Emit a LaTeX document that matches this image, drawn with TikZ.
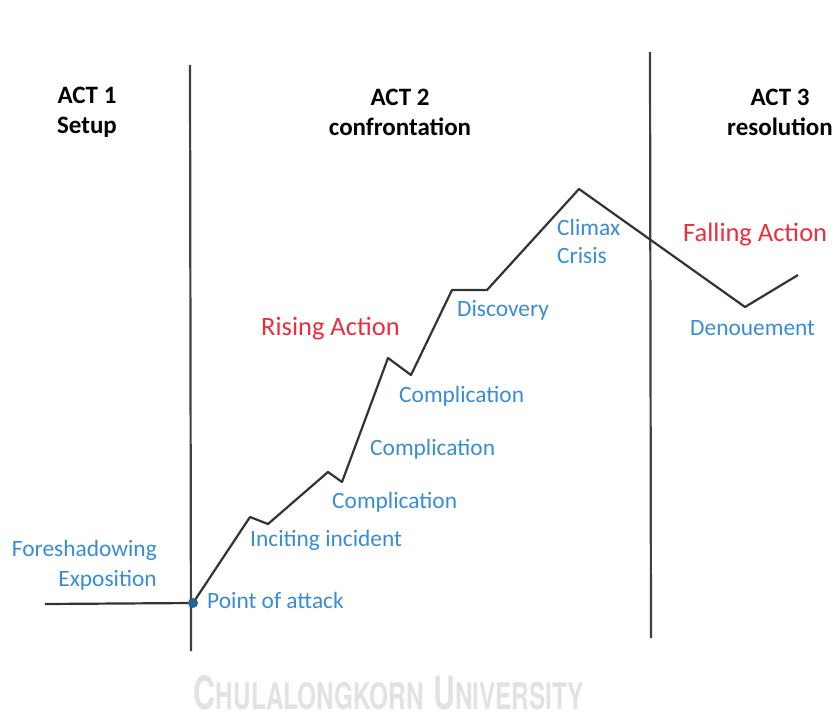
\documentclass[tikz,border=0pt]{standalone}
\usepackage{fontspec}
\setmainfont{Carlito}
\setsansfont{TeX Gyre Heros}
\usetikzlibrary{positioning}

\definecolor{stageblue}{HTML}{3A8CD2}
\definecolor{actionred}{HTML}{E8303C}
\definecolor{markgray}{HTML}{E2E2E2}

\begin{document}
\begin{tikzpicture}[x=1pt,y=-1pt,
  acttitle/.style={font=\fontsize{25}{30}\selectfont\bfseries, align=center, inner sep=0pt},
  stagelbl/.style={font=\fontsize{23.4}{28}\selectfont, text=stageblue, inner sep=0pt, anchor=west},
  actionlbl/.style={font=\fontsize{26.5}{28}\selectfont, text=actionred, inner sep=0pt, anchor=west},
  divider/.style={draw=black!75, line width=2.2pt},
  plotline/.style={draw=black!80, line width=2.2pt, line join=round}]

  \useasboundingbox (0,0) rectangle (837,720);

  % Act headings
  \node[acttitle] (act1) at (87,112) {ACT 1\\Setup};
  \node[acttitle] (act2) at (400,112) {ACT 2\\confrontation};
  \node[acttitle] (act3) at (780,112) {ACT 3\\resolution};

  % Act dividers
  \coordinate (div1top) at (190,65);
  \coordinate (div1bot) at (191,651);
  \coordinate (div2top) at (650,52);
  \coordinate (div2bot) at (651,638);
  \draw[divider] (div1top) -- (div1bot);
  \draw[divider] (div2top) -- (div2bot);

  % Plot line
  \coordinate (start) at (45,604);
  \coordinate (attack) at (193,603);
  \coordinate (incite) at (250,517);
  \coordinate (c1) at (268,524);
  \coordinate (c2) at (328,472);
  \coordinate (c3) at (342,482);
  \coordinate (c4) at (388,358);
  \coordinate (c5) at (411,375);
  \coordinate (disc1) at (452,290);
  \coordinate (disc2) at (487,290);
  \coordinate (climax) at (579,189);
  \coordinate (denoue) at (745,307);
  \coordinate (finish) at (798,275);
  \draw[plotline] (start) -- (attack);
  \draw[plotline] (attack) -- (incite) -- (c1) -- (c2) -- (c3) -- (c4) -- (c5)
    -- (disc1) -- (disc2) -- (climax) -- (denoue) -- (finish);
  \fill[stageblue!70!black] (attack) circle (5);

  % Stage labels
  \node[stagelbl, anchor=east] (foresh) at (157,550) {Foreshadowing};
  \node[stagelbl, anchor=east] (expo) at (157,580) {Exposition};
  \node[stagelbl] (attacklbl) at (207,600) {Point of attack};
  \node[stagelbl] (incitelbl) at (250,540) {Inciting incident};
  \node[stagelbl] (comp1) at (332,502) {Complication};
  \node[stagelbl] (comp2) at (370,449) {Complication};
  \node[stagelbl] (comp3) at (399,396) {Complication};
  \node[stagelbl] (disclbl) at (457,310) {Discovery};
  \node[stagelbl, align=left] (climaxlbl) at (557,241) {Climax\\Crisis};
  \node[stagelbl] (denouelbl) at (690,328) {Denouement};

  % Action labels
  \node[actionlbl] (rising) at (261,329) {Rising Action};
  \node[actionlbl] (falling) at (683,235) {Falling Action};

  % Watermark
  \node[text=markgray, inner sep=0pt] (mark) at (389,693)
    {\resizebox{390pt}{34pt}{\sffamily\bfseries\fontsize{10}{10}\selectfont C\fontsize{8}{8}\selectfont HULALONGKORN\hspace{3pt}\fontsize{10}{10}\selectfont U\fontsize{8}{8}\selectfont NIVERSITY}};
\end{tikzpicture}
\end{document}
